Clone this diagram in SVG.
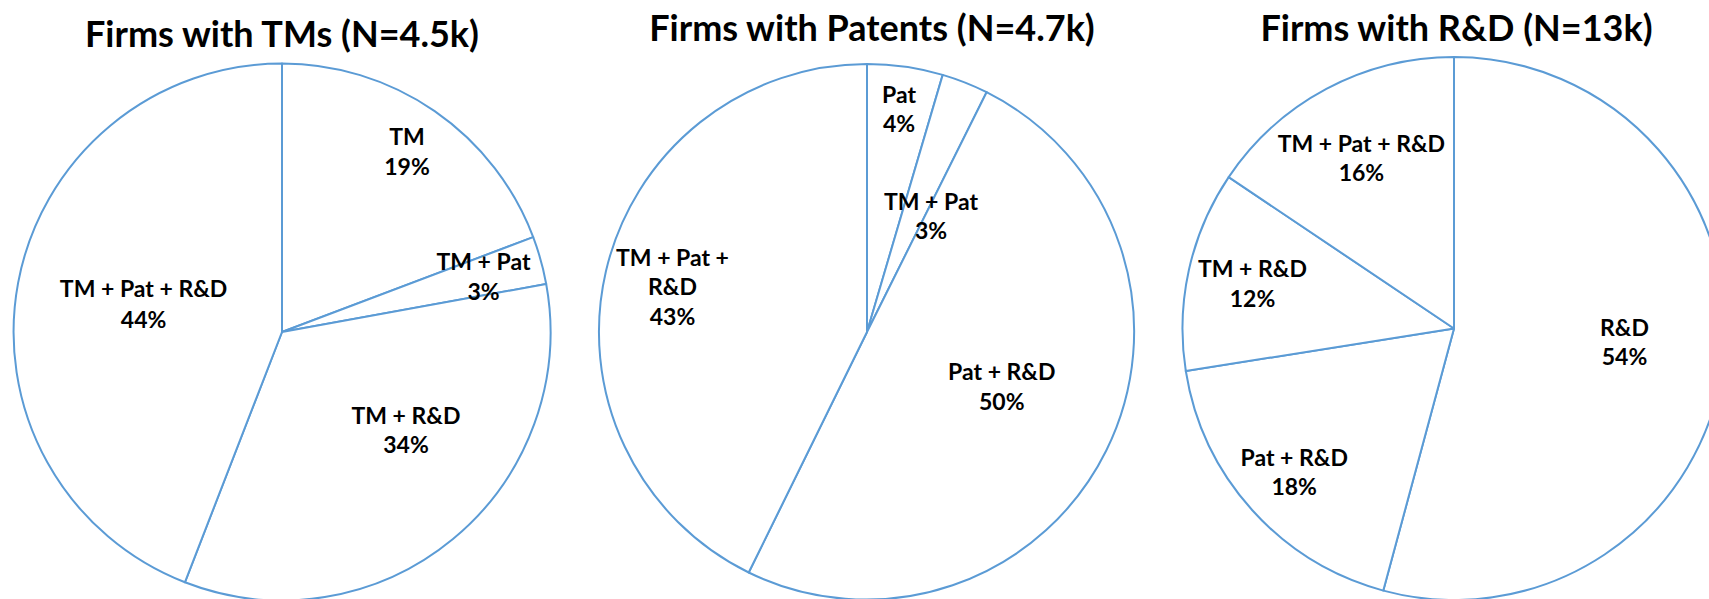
<svg xmlns="http://www.w3.org/2000/svg" width="1709" height="599" viewBox="0 0 1709 599">
  <style>
    .slice { fill: #ffffff; stroke: #5B9BD5; stroke-width: 2; stroke-linejoin: round; }
    .title { font-family: Lato, "Liberation Sans", sans-serif; font-weight: bold; font-size: 36px; fill: #000000; text-anchor: middle; }
    .lbl { font-family: Lato, "Liberation Sans", sans-serif; font-weight: bold; font-size: 23px; fill: #000000; text-anchor: middle; }
  </style>
  <rect width="1709" height="599" fill="#ffffff"/>

  <!-- Pie 1: firms with trademarks -->
  <g id="pie-tm">
    <text class="title" x="282" y="47">Firms with TMs (N=4.5k)</text>
    <path class="slice" d="M282,332 L282,63.5 A268.5,268.5 0 0,1 533.2,237.1 Z"/>
    <path class="slice" d="M282,332 L533.2,237.1 A268.5,268.5 0 0,1 546.2,284 Z"/>
    <path class="slice" d="M282,332 L546.2,284 A268.5,268.5 0 0,1 184.9,582.3 Z"/>
    <path class="slice" d="M282,332 L184.9,582.3 A268.5,268.5 0 0,1 282,63.5 Z"/>
    <text class="lbl" x="407" y="145">TM</text>
    <text class="lbl" x="407" y="175">19%</text>
    <text class="lbl" x="483.5" y="270">TM + Pat</text>
    <text class="lbl" x="483.5" y="300">3%</text>
    <text class="lbl" x="143.6" y="297">TM + Pat + R&amp;D</text>
    <text class="lbl" x="143.6" y="328">44%</text>
    <text class="lbl" x="406" y="424">TM + R&amp;D</text>
    <text class="lbl" x="406" y="453">34%</text>
  </g>

  <!-- Pie 2: firms with patents -->
  <g id="pie-pat">
    <text class="title" x="872" y="41">Firms with Patents (N=4.7k)</text>
    <path class="slice" d="M867,332 L867,64 A268,268 0 0,1 942.7,74.9 Z"/>
    <path class="slice" d="M867,332 L942.7,74.9 A268,268 0 0,1 986.6,92.2 Z"/>
    <path class="slice" d="M867,332 L986.6,92.2 A268,268 0 0,1 748.7,572.5 Z"/>
    <path class="slice" d="M867,332 L748.7,572.5 A268,268 0 0,1 867,64 Z"/>
    <text class="lbl" x="899" y="103">Pat</text>
    <text class="lbl" x="899" y="132">4%</text>
    <text class="lbl" x="931" y="210">TM + Pat</text>
    <text class="lbl" x="931" y="239">3%</text>
    <text class="lbl" x="672.5" y="266">TM + Pat +</text>
    <text class="lbl" x="672.5" y="295">R&amp;D</text>
    <text class="lbl" x="672.5" y="325">43%</text>
    <text class="lbl" x="1001.8" y="380">Pat + R&amp;D</text>
    <text class="lbl" x="1001.8" y="410">50%</text>
  </g>

  <!-- Pie 3: firms with R&D -->
  <g id="pie-rd">
    <text class="title" x="1456.5" y="40.5">Firms with R&amp;D (N=13k)</text>
    <path class="slice" d="M1454,328.5 L1454,57 A271.5,271.5 0 1,1 1383.3,590.6 Z"/>
    <path class="slice" d="M1454,328.5 L1383.3,590.6 A271.5,271.5 0 0,1 1185.8,371 Z"/>
    <path class="slice" d="M1454,328.5 L1185.8,371 A271.5,271.5 0 0,1 1228.7,177.1 Z"/>
    <path class="slice" d="M1454,328.5 L1228.7,177.1 A271.5,271.5 0 0,1 1454,57 Z"/>
    <text class="lbl" x="1361.4" y="152">TM + Pat + R&amp;D</text>
    <text class="lbl" x="1361.4" y="181">16%</text>
    <text class="lbl" x="1252.5" y="277">TM + R&amp;D</text>
    <text class="lbl" x="1252.5" y="307">12%</text>
    <text class="lbl" x="1624.5" y="336">R&amp;D</text>
    <text class="lbl" x="1624.5" y="365">54%</text>
    <text class="lbl" x="1294.2" y="466">Pat + R&amp;D</text>
    <text class="lbl" x="1294.2" y="495">18%</text>
  </g>
</svg>
